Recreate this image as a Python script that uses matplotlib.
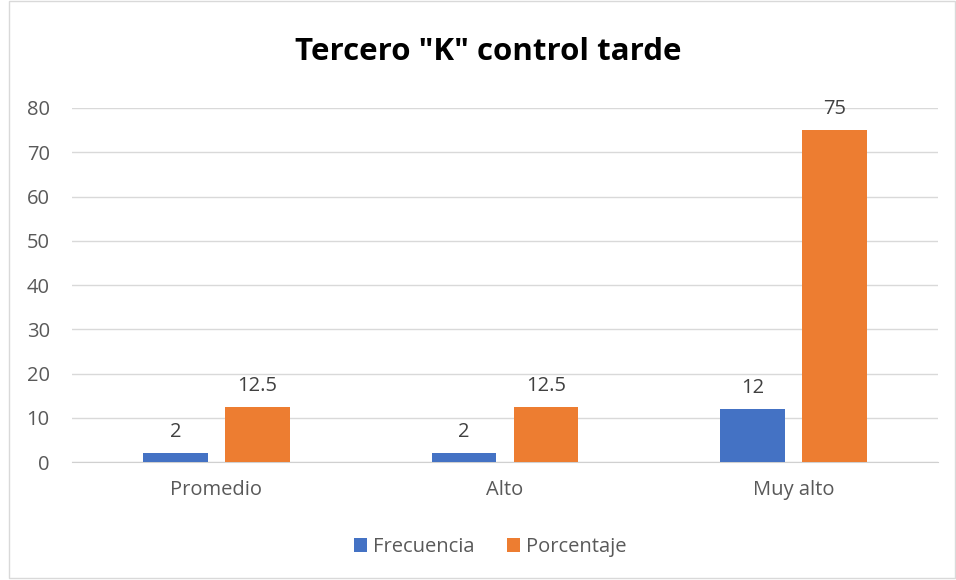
import numpy as np
import matplotlib.pyplot as plt
from matplotlib.patches import Rectangle

categorias = ["Promedio", "Alto", "Muy alto"]
frecuencia = [2, 2, 12]
porcentaje = [12.5, 12.5, 75]
etiquetas_frec = ["2", "2", "12"]
etiquetas_porc = ["12.5", "12.5", "75"]

plt.rcParams['font.family'] = ['Open Sans', 'DejaVu Sans']

fig = plt.figure(figsize=(9.56, 5.8), dpi=100)
ax = fig.add_axes([72 / 956, 0.2034, 866 / 956, 0.6104])

x = np.arange(len(categorias))
w = 0.224
b1 = ax.bar(x - 0.142, frecuencia, w, color='#4472C4', label='Frecuencia', zorder=3)
b2 = ax.bar(x + 0.142, porcentaje, w, color='#ED7D31', label='Porcentaje', zorder=3)

for rect, t in zip(b1, etiquetas_frec):
    ax.annotate(t, (rect.get_x() + rect.get_width() / 2, rect.get_height()),
                xytext=(0, 8), textcoords='offset points', ha='center', va='bottom',
                fontsize=14.5, color='#404040')
for rect, t in zip(b2, etiquetas_porc):
    ax.annotate(t, (rect.get_x() + rect.get_width() / 2, rect.get_height()),
                xytext=(0, 8), textcoords='offset points', ha='center', va='bottom',
                fontsize=14.5, color='#404040')

ax.set_xlim(-0.5, 2.5)
ax.set_ylim(0, 80)
ax.set_yticks(range(0, 81, 10))
ax.set_xticks(x)
ax.set_xticklabels(categorias)
ax.tick_params(axis='both', length=0, labelsize=14.5, labelcolor='#595959')
ax.tick_params(axis='x', pad=13)
ax.tick_params(axis='y', pad=16)
ax.grid(axis='y', color='#d9d9d9', linewidth=1, zorder=0)
for s in ['top', 'right', 'left']:
    ax.spines[s].set_visible(False)
ax.spines['bottom'].set_color('#d0d0d0')

fig.text(0.511, 0.91, 'Tercero "K" control tarde', ha='center', va='center',
         fontsize=22.5, fontweight='bold', color='black')

fig.legend(loc='center', bbox_to_anchor=(0.513, 0.057), ncol=2, frameon=False,
           fontsize=14.5, labelcolor='#595959', handlelength=0.65, handleheight=0.65,
           columnspacing=1.6, handletextpad=0.3)

fig.patches.append(Rectangle((0.009, 0.003), 0.99, 0.995, transform=fig.transFigure,
                             fill=False, edgecolor='#d9d9d9', linewidth=1))

fig.savefig('out.png', dpi=100)
